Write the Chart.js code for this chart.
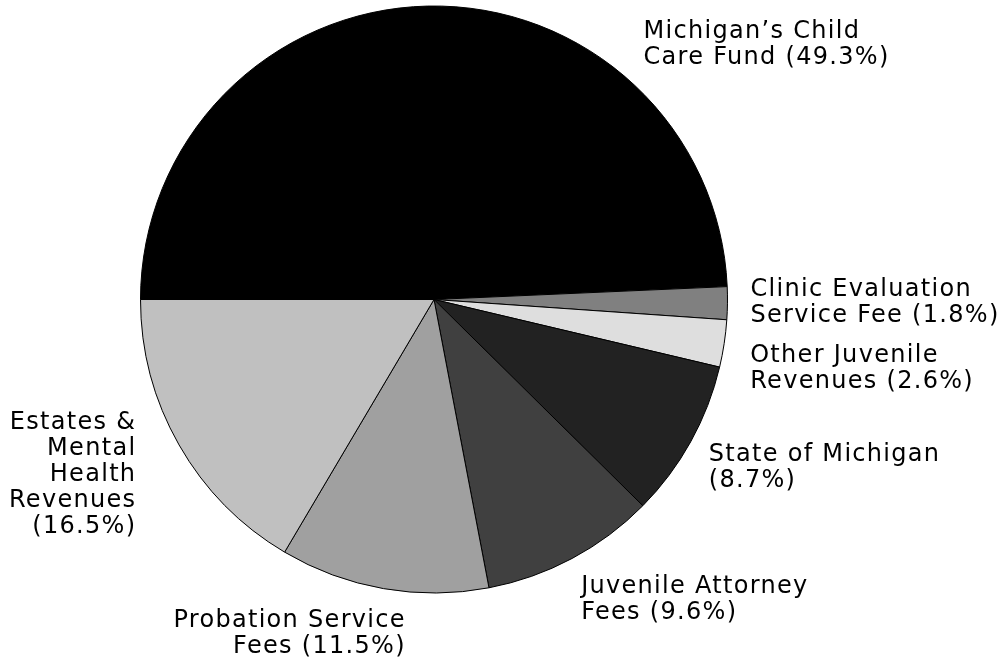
<!DOCTYPE html>
<html>
<head>
<meta charset="utf-8">
<script src="https://cdn.jsdelivr.net/npm/chart.js@4.4.1/dist/chart.umd.min.js"></script>
<style>
  html, body { margin: 0; padding: 0; background: #fff; }
  #wrap { width: 1002px; height: 657px; }
</style>
</head>
<body>
<div id="wrap"><canvas id="pie" width="1002" height="657"></canvas></div>
<script>
// 数据
const categories = [
  'Michigan’s Child Care Fund',
  'Clinic Evaluation Service Fee',
  'Other Juvenile Revenues',
  'State of Michigan',
  'Juvenile Attorney Fees',
  'Probation Service Fees',
  'Estates & Mental Health Revenues'
]
const shares = [49.3, 1.8, 2.6, 8.7, 9.6, 11.5, 16.5]
const labelLines = [
  ['Michigan’s Child', 'Care Fund (49.3%)'],
  ['Clinic Evaluation', 'Service Fee (1.8%)'],
  ['Other Juvenile', 'Revenues (2.6%)'],
  ['State of Michigan', '(8.7%)'],
  ['Juvenile Attorney', 'Fees (9.6%)'],
  ['Probation Service', 'Fees (11.5%)'],
  ['Estates &', 'Mental', 'Health', 'Revenues', '(16.5%)']
]
const sliceColors = ['#000000', '#808080', '#dedede', '#222222', '#404040', '#a0a0a0', '#c0c0c0']

// 标签位置：相对扇区外缘中点的偏移
const labelStyle = [
  {dx: 216, dy: 32, align: 'left'},
  {dx: 23, dy: -7, align: 'left'},
  {dx: 26, dy: 18, align: 'left'},
  {dx: 18, dy: 19, align: 'left'},
  {dx: 9, dy: 35, align: 'left'},
  {dx: 21, dy: 38, align: 'right'},
  {dx: -44, dy: -16, align: 'right'}
]
const spacing = 1.3

const sliceLabels = {
  id: 'sliceLabels',
  afterDatasetsDraw(chart) {
    const ctx = chart.ctx
    const arcs = chart.getDatasetMeta(0).data
    ctx.save()
    ctx.fillStyle = '#000'
    ctx.font = '24px "DejaVu Sans"'
    ctx.letterSpacing = spacing + 'px'
    ctx.textBaseline = 'alphabetic'
    arcs.forEach((arc, i) => {
      const mid = (arc.startAngle + arc.endAngle) / 2
      const s = labelStyle[i]
      const x = arc.x + Math.cos(mid) * arc.outerRadius + s.dx
      const y = arc.y + Math.sin(mid) * arc.outerRadius + s.dy
      ctx.textAlign = s.align
      labelLines[i].forEach((line, k) => {
        ctx.fillText(line, s.align === 'right' ? x + spacing : x, y + k * 26)
      })
    })
    ctx.restore()
  }
}

new Chart(document.getElementById('pie'), {
  type: 'pie',
  data: {
    labels: categories,
    datasets: [{
      data: shares,
      backgroundColor: sliceColors,
      borderColor: '#000',
      borderWidth: 1
    }]
  },
  options: {
    responsive: false,
    animation: false,
    rotation: -90,
    layout: {padding: {left: 140, right: 274, top: 5, bottom: 63}},
    plugins: {legend: {display: false}, tooltip: {enabled: false}}
  },
  plugins: [sliceLabels]
})
</script>
</body>
</html>
